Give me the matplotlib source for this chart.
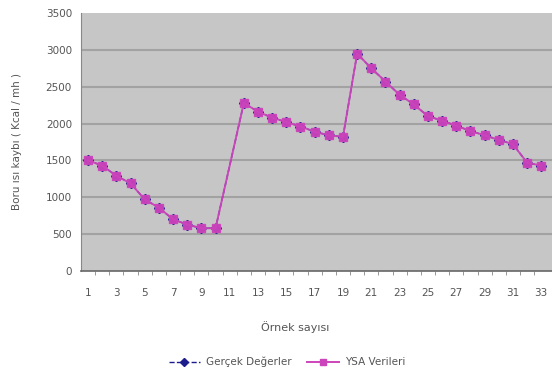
import numpy as np
import matplotlib
matplotlib.use("Agg")
import matplotlib.pyplot as plt
from matplotlib.lines import Line2D

# sample numbers 1..33; sample 11 has no value in the source
samples = list(range(1, 34))
gercek = [1500, 1430, 1290, 1190, 970, 860, 700, 630, 580, 580,
          None, 2280, 2160, 2080, 2020, 1960, 1890, 1840, 1820, 2950,
          2750, 2570, 2390, 2260, 2100, 2040, 1970, 1900, 1840, 1780,
          1720, 1470, 1430]
ysa = [1500, 1430, 1290, 1190, 970, 860, 700, 630, 580, 580,
       None, 2280, 2160, 2080, 2020, 1960, 1890, 1840, 1820, 2950,
       2750, 2570, 2390, 2260, 2100, 2040, 1970, 1900, 1840, 1780,
       1720, 1470, 1430]
y_ticks = [0, 500, 1000, 1500, 2000, 2500, 3000, 3500]
x_tick_labels = list(range(1, 34, 2))

BLUE = '#1c1c8c'
MAGENTA = '#cc44bb'
TEXT = '#555555'

def present(xs, ys):
    pairs = [(x, y) for x, y in zip(xs, ys) if y is not None]
    return [p[0] for p in pairs], [p[1] for p in pairs]

fig = plt.figure(figsize=(5.52, 3.74), dpi=100)
ax = fig.add_axes([81/552, 103/374, 1 - 81/552, (271-13)/374])
ax.set_facecolor('#c6c6c6')

for y in y_ticks[1:-1]:
    ax.axhline(y, color='#a2a2a2', lw=1.5, zorder=1)

gx, gy = present(samples, gercek)
ax.plot(gx, gy, color=BLUE, ls='--', lw=1.0, marker='D', ms=5.5,
        mfc=BLUE, mec=BLUE, zorder=3)
yx, yy = present(samples, ysa)
ax.plot(yx, yy, color=MAGENTA, lw=1.4, marker='s', ms=6,
        mfc=MAGENTA, mec=MAGENTA, alpha=0.95, zorder=4)

ax.set_xlim(0.5, 33.76)
ax.set_ylim(0, 3500)
ax.set_yticks(y_ticks)
ax.set_xticks(x_tick_labels)
ax.set_xticks(np.arange(1.5, 33, 1), minor=True)
ax.tick_params(axis='x', which='major', length=0, pad=12, labelsize=7.5, labelcolor=TEXT)
ax.tick_params(axis='x', which='minor', length=3, color='#888888', direction='out')
ax.tick_params(axis='y', length=0, pad=6.5, labelsize=7.5, labelcolor=TEXT)

for s in ['top', 'right']:
    ax.spines[s].set_visible(False)
ax.spines['left'].set_color('#888888')
ax.spines['bottom'].set_color('#666666')
ax.spines['bottom'].set_linewidth(1.2)

fig.text(17/552, 1 - 142/374, 'Boru ısı kaybı ( Kcal / mh )', fontsize=7.5, color=TEXT,
         rotation=90, ha='center', va='center')
fig.text(295/552, 1 - 327/374, 'Örnek sayısı', fontsize=8, color=TEXT, ha='center', va='center')

handles = [Line2D([0], [0], color=BLUE, ls='--', lw=1.0, marker='D', ms=4),
           Line2D([0], [0], color=MAGENTA, lw=1.4, marker='s', ms=5)]
fig.legend(handles, ['Gerçek Değerler', 'YSA Verileri'], loc='center',
           bbox_to_anchor=(287/552, 1 - 362/374), ncol=2, frameon=False,
           fontsize=7.5, labelcolor=TEXT, handlelength=3, columnspacing=1.5,
           handletextpad=0.6)

fig.savefig('out.png', dpi=100)
